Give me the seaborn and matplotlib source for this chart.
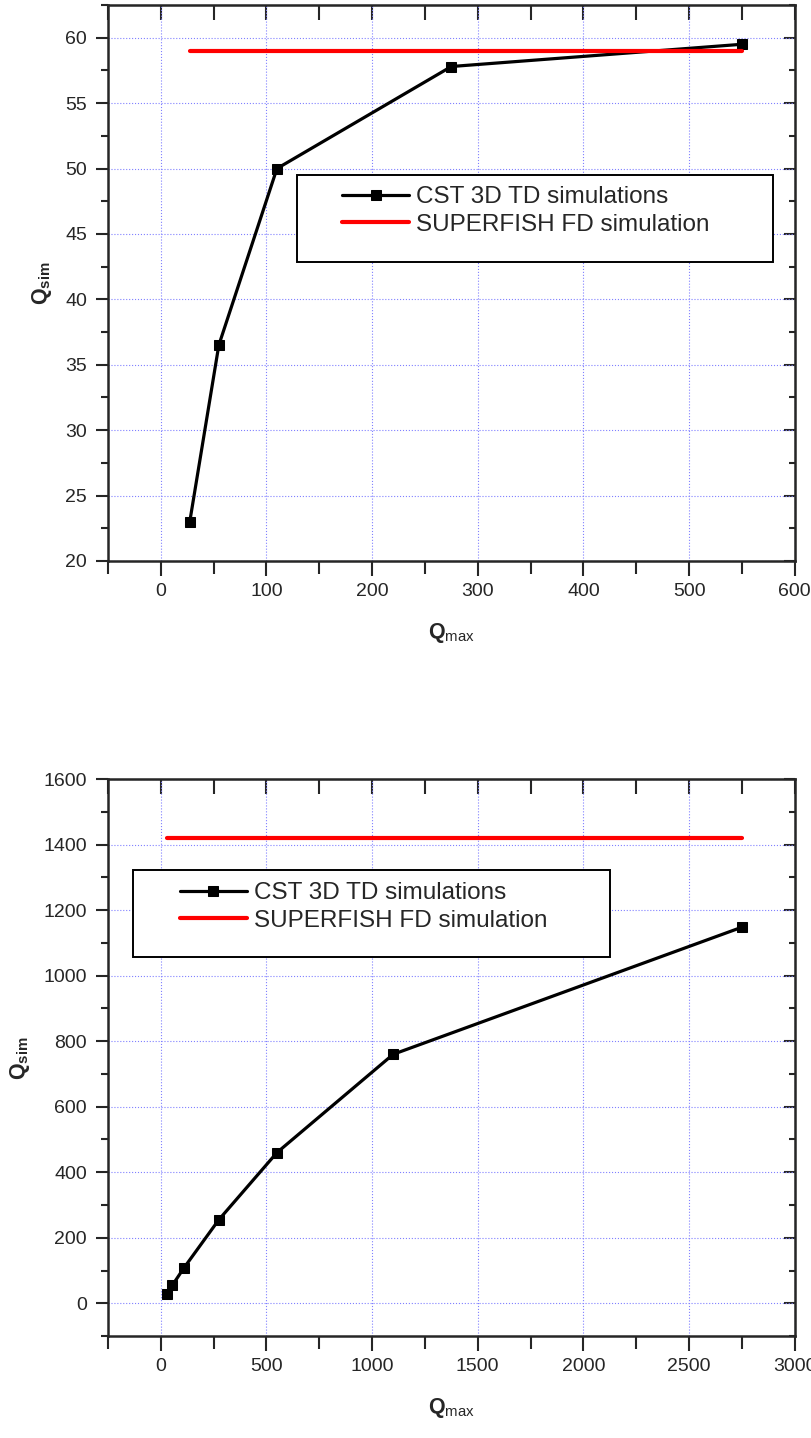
import numpy as np
import pandas as pd
import matplotlib
matplotlib.use("Agg")
from matplotlib import pyplot as plt
from matplotlib.ticker import MultipleLocator
from matplotlib.patches import Rectangle
import seaborn as sns

# top panel
qmax_a = [27.5, 55, 110, 275, 550]
qsim_a = [23.0, 36.5, 50.0, 57.8, 59.5]
sf_x_a = [27.5, 550]
sf_y_a = [59.0, 59.0]

# bottom panel
qmax_b = [27.5, 55, 110, 275, 550, 1100, 2750]
qsim_b = [28, 55, 108, 255, 460, 760, 1148]
sf_x_b = [27.5, 2750]
sf_y_b = [1420, 1420]

cst_label = "CST 3D TD simulations"
sf_label = "SUPERFISH FD simulation"


def panel(ax, qx, qy, sx, sy, xlim, ylim, xmaj, ymaj, box, leg_anchor):
    cst = pd.DataFrame({"Qmax": qx, "Qsim": qy})
    sf = pd.DataFrame({"Qmax": sx, "Qsim": sy})
    sns.lineplot(data=cst, x="Qmax", y="Qsim", ax=ax, color="black", lw=2.3,
                 marker="s", markersize=7.5, markeredgecolor="black",
                 label=cst_label)
    sns.lineplot(data=sf, x="Qmax", y="Qsim", ax=ax, color="#ff0000", lw=3,
                 solid_capstyle="round", label=sf_label)
    ax.set_xlim(*xlim)
    ax.set_ylim(*ylim)
    ax.xaxis.set_major_locator(MultipleLocator(xmaj))
    ax.xaxis.set_minor_locator(MultipleLocator(xmaj / 2))
    ax.yaxis.set_major_locator(MultipleLocator(ymaj))
    ax.yaxis.set_minor_locator(MultipleLocator(ymaj / 2))
    ax.grid(True, which="major", color="#8080ff", ls=":", lw=0.8)
    ax.tick_params(axis="x", which="major", direction="out", length=11, width=1.5, pad=5)
    ax.tick_params(axis="x", which="minor", direction="out", length=9, width=1.5)
    ax.tick_params(axis="y", which="major", direction="out", length=9, width=1.5, pad=6)
    ax.tick_params(axis="y", which="minor", direction="out", length=5, width=1.5)
    ax.tick_params(which="major", labelsize=14)
    for s in ax.spines.values():
        s.set_linewidth(1.8)
        s.set_visible(True)

    top = ax.secondary_xaxis("top")
    top.xaxis.set_major_locator(MultipleLocator(xmaj))
    top.xaxis.set_minor_locator(MultipleLocator(xmaj / 2))
    top.tick_params(which="both", direction="in", labeltop=False, width=1.5, length=11)
    right = ax.secondary_yaxis("right")
    right.yaxis.set_major_locator(MultipleLocator(ymaj))
    right.yaxis.set_minor_locator(MultipleLocator(ymaj / 2))
    right.tick_params(which="both", direction="in", labelright=False, width=1.5)
    right.tick_params(which="major", length=8)
    right.tick_params(which="minor", length=4)

    ax.set_xlabel(r"$\mathbf{Q}_{\mathrm{max}}$", fontsize=15.5, labelpad=15)
    ax.set_ylabel(r"$\mathbf{Q}_{\mathbf{sim}}$", fontsize=15.5, labelpad=8)

    # legend frame (Origin-style, wider than its content)
    x0, y0, x1, y1 = box
    ax.add_patch(Rectangle((x0, y0), x1 - x0, y1 - y0, transform=ax.transAxes,
                           facecolor="white", edgecolor="black", lw=1.4,
                           zorder=4))
    leg = ax.legend(loc="upper left", bbox_to_anchor=leg_anchor, fontsize=17.5,
                    frameon=False, borderpad=0, handlelength=2.75,
                    labelspacing=0.22, handletextpad=0.3, borderaxespad=0)
    leg.set_zorder(5)


sns.set_style("ticks")
plt.rcParams["font.family"] = ["Liberation Sans", "DejaVu Sans"]
plt.rcParams["mathtext.fontset"] = "custom"
plt.rcParams["mathtext.rm"] = "Liberation Sans"
plt.rcParams["mathtext.bf"] = "Liberation Sans:bold"
plt.rcParams["mathtext.it"] = "Liberation Sans:italic"

fig = plt.figure(figsize=(8.11, 14.38), dpi=100)
ax1 = fig.add_axes([0.133, 0.6099, 0.847, 0.3866])
ax2 = fig.add_axes([0.133, 0.0709, 0.847, 0.3873])

panel(ax1, qmax_a, qsim_a, sf_x_a, sf_y_a, (-50, 600), (20, 62.5), 100, 5,
      (0.275, 0.538, 0.968, 0.694), (0.341, 0.674))
panel(ax2, qmax_b, qsim_b, sf_x_b, sf_y_b, (-250, 3000), (-100, 1600), 500, 200,
      (0.036, 0.680, 0.731, 0.837), (0.105, 0.815))

fig.savefig("out.png", dpi=100)
